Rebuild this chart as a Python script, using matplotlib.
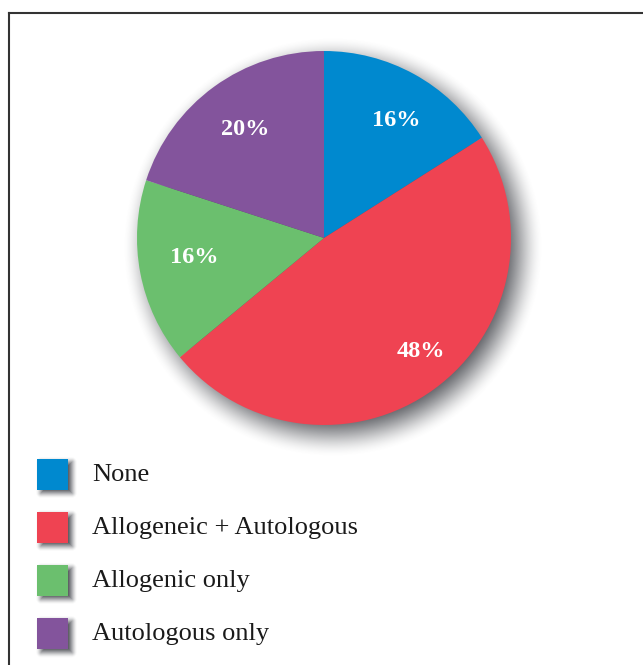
import numpy as np
import matplotlib.pyplot as plt
from matplotlib.patches import Rectangle
from matplotlib.lines import Line2D

# данные
labels = ['None', 'Allogeneic + Autologous', 'Allogenic only', 'Autologous only']
shares = [16, 48, 16, 20]
colors = ['#0089CF', '#EF4352', '#6BBF6E', '#83549C']

W, H = 643, 665
fig = plt.figure(figsize=(W / 100, H / 100), dpi=100)
ax = fig.add_axes([0, 0, 1, 1])

cx, cy, R = 324, H - 238, 187
serif = ['Liberation Serif', 'DejaVu Serif']
# сдвиги подписей в пикселях
nudge = [(6, -4), (16, -2), (6, 6), (3, -3)]


def shadow_image(ax, sdf, extent, blur, strength, z):
    """Мягкая тень по функции расстояния"""
    x0, x1, y0, y1 = extent
    xs = np.linspace(x0, x1, int(x1 - x0))
    ys = np.linspace(y0, y1, int(y1 - y0))
    X, Y = np.meshgrid(xs, ys)
    d = sdf(X, Y)
    t = np.clip(0.5 - d / (2 * blur), 0, 1)
    a = strength * t * t * (3 - 2 * t)
    img = np.zeros(X.shape + (4,))
    img[..., 0] = 0.28
    img[..., 1] = 0.29
    img[..., 2] = 0.31
    img[..., 3] = a
    ax.imshow(img, extent=extent, origin='lower', interpolation='bilinear', zorder=z)


# тень круга
ox, oy = 9, -9
shadow_image(ax, lambda X, Y: np.hypot(X - cx - ox, Y - cy - oy) - R,
             (cx - R - 40, cx + R + 60, cy - R - 60, cy + R + 40), 24, 0.95, 0)

wedges, texts, autotexts = ax.pie(
    shares, colors=colors, startangle=90, counterclock=False,
    center=(cx, cy), radius=R, frame=True,
    autopct=lambda p: f'{p:.0f}%', pctdistance=0.74,
    wedgeprops=dict(linewidth=0),
    textprops=dict(color='white', fontsize=17.5, fontweight='bold', family=serif))
for w in wedges:
    w.set_zorder(2)
for t, (dx, dy) in zip(autotexts, nudge):
    x, y = t.get_position()
    t.set_position((x + dx, y + dy))
    t.set_zorder(3)

# легенда
sq = 31
for i, (lab, col) in enumerate(zip(labels, colors)):
    yc = H - (474 + 53 * i)
    x0 = 37
    def box(X, Y, xc=x0 + sq / 2 + 4, yc2=yc - 4):
        qx = np.abs(X - xc) - sq / 2
        qy = np.abs(Y - yc2) - sq / 2
        out = np.hypot(np.maximum(qx, 0), np.maximum(qy, 0))
        return out + np.minimum(np.maximum(qx, qy), 0)
    shadow_image(ax, box, (x0 - 10, x0 + sq + 20, yc - sq / 2 - 20, yc + sq / 2 + 10), 6, 1.0, 0)
    ax.add_patch(Rectangle((x0, yc - sq / 2), sq, sq, facecolor=col, edgecolor='none', zorder=2))
    ax.text(92, yc - 1, lab, fontsize=19, family=serif, color='#1A1A1A', va='center', ha='left')

# рамка
ax.add_line(Line2D([9, W], [H - 13, H - 13], color='#333333', lw=1.5))
ax.add_line(Line2D([9, 9], [0, H - 13], color='#333333', lw=1.5))

ax.set_xlim(0, W)
ax.set_ylim(0, H)
ax.set_aspect('auto')
ax.axis('off')

fig.savefig('out.png', dpi=100)
